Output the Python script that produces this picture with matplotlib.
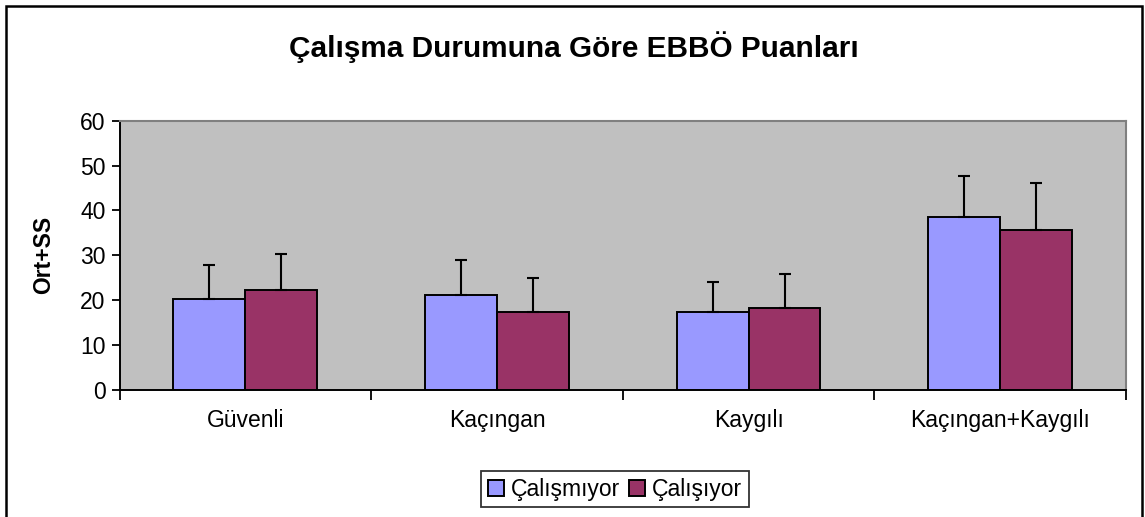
import numpy as np
import matplotlib
matplotlib.use("Agg")
import matplotlib.pyplot as plt
from matplotlib.patches import Rectangle

plt.rcParams['font.family'] = ['Liberation Sans', 'DejaVu Sans']

categories = ["Güvenli", "Kaçıngan", "Kaygılı", "Kaçıngan+Kaygılı"]
calismiyor = [20.2, 21.1, 17.3, 38.6]
calismiyor_sd = [7.6, 7.9, 6.7, 9.2]
calisiyor = [22.3, 17.4, 18.2, 35.7]
calisiyor_sd = [7.9, 7.5, 7.5, 10.4]

fig = plt.figure(figsize=(11.45, 5.17), dpi=100)
ax = fig.add_axes([0.1044, 0.2466, 0.8790, 0.5194])

x = np.arange(len(categories))
w = 1 / 3.5
errkw = dict(ecolor='black', elinewidth=1.5, capsize=4.5, capthick=1.5)
ax.bar(x - w / 2, calismiyor, w, color='#9999FF', edgecolor='black', linewidth=1.4,
       yerr=[np.zeros(4), calismiyor_sd], error_kw=errkw, label='Çalışmıyor')
ax.bar(x + w / 2, calisiyor, w, color='#993366', edgecolor='black', linewidth=1.4,
       yerr=[np.zeros(4), calisiyor_sd], error_kw=errkw, label='Çalışıyor')

ax.set_facecolor('#C0C0C0')
ax.set_xlim(-0.5, 3.5)
ax.set_ylim(0, 60)
ax.set_yticks(range(0, 61, 10))
ax.set_xticks(x)
ax.set_xticklabels(categories, fontsize=16.5)
ax.tick_params(axis='x', length=0, pad=14)
ax.set_xticks(np.arange(-0.5, 4, 1), minor=True)
ax.tick_params(axis='x', which='minor', length=7, width=1.3, direction='out')
ax.tick_params(axis='y', length=6, width=1.3, labelsize=16.5, pad=4)
for s in ['top', 'right']:
    ax.spines[s].set_color('#808080')
    ax.spines[s].set_linewidth(1.5)
for s in ['left', 'bottom']:
    ax.spines[s].set_linewidth(1.4)

ax.set_ylabel('Ort+SS', fontsize=16.5, fontweight='bold', labelpad=18)
fig.text(0.5013, 0.909, 'Çalışma Durumuna Göre EBBÖ Puanları', ha='center', va='center',
         fontsize=21.4, fontweight='bold')

leg = fig.legend(loc='center', bbox_to_anchor=(0.537, 0.054), ncol=2, fontsize=16.5,
                 frameon=True, fancybox=False, handlelength=0.7, handleheight=0.7,
                 handletextpad=0.3, columnspacing=0.4, borderpad=0.3, borderaxespad=0)
leg.get_frame().set_edgecolor('black')
leg.get_frame().set_linewidth(1.3)

fig.patches.append(Rectangle((6 / 1145, -0.05), 1136 / 1145, 1 - 6 / 517 + 0.05,
                             transform=fig.transFigure, fill=False, edgecolor='black',
                             linewidth=1.8))

fig.savefig('out.png', dpi=100)
